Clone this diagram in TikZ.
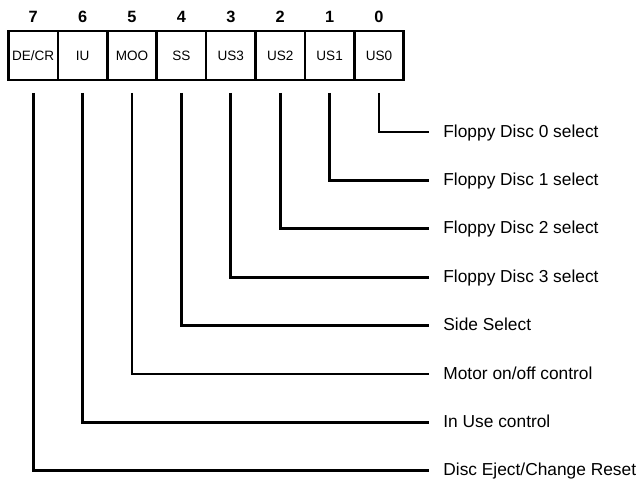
\documentclass[tikz,border=0pt]{standalone}
\usepackage{fontspec}
\setmainfont{Liberation Sans}
\usetikzlibrary{positioning,calc}

\begin{document}
\begin{tikzpicture}[x=0.5bp,y=0.5bp,
  bitbox/.style={draw, line width=1.3bp, minimum width=24.7bp, minimum height=24.5bp,
    inner sep=0pt, outer sep=0pt, font=\fontsize{6.8}{7}\selectfont},
  bitnum/.style={inner sep=0pt, font=\bfseries\fontsize{8.2}{9}\selectfont},
  desc/.style={anchor=west, inner sep=0pt, text height=0.72em, text depth=0.2em,
    font=\fontsize{8.7}{10}\selectfont},
  wire/.style={line width=1.4bp}]
  \useasboundingbox (0,0) rectangle (639,-487);
  % register bits
  \node[bitbox] (b7) at (33.2,-55.5) {DE/CR};
  \node[bitbox, right=0pt of b7] (b6) {IU};
  \node[bitbox, right=0pt of b6] (b5) {MOO};
  \node[bitbox, right=0pt of b5] (b4) {SS};
  \node[bitbox, right=0pt of b4] (b3) {US3};
  \node[bitbox, right=0pt of b3] (b2) {US2};
  \node[bitbox, right=0pt of b2] (b1) {US1};
  \node[bitbox, right=0pt of b1] (b0) {US0};
  \foreach \b in {0,...,7}
    \node[bitnum, above=4bp of b\b] (n\b) {\b};
  % bit meanings
  \foreach \b/\t in {0/{Floppy Disc 0 select}, 1/{Floppy Disc 1 select},
      2/{Floppy Disc 2 select}, 3/{Floppy Disc 3 select}, 4/{Side Select},
      5/{Motor on/off control}, 6/{In Use control}, 7/{Disc Eject/Change Reset}} {
    \node[desc] (d\b) at (443,{-132-48.4*\b}) {\t};
    \draw[wire] ([yshift=-6.5bp]b\b.south) |- ([xshift=-7bp]d\b.west);
  }
\end{tikzpicture}
\end{document}
